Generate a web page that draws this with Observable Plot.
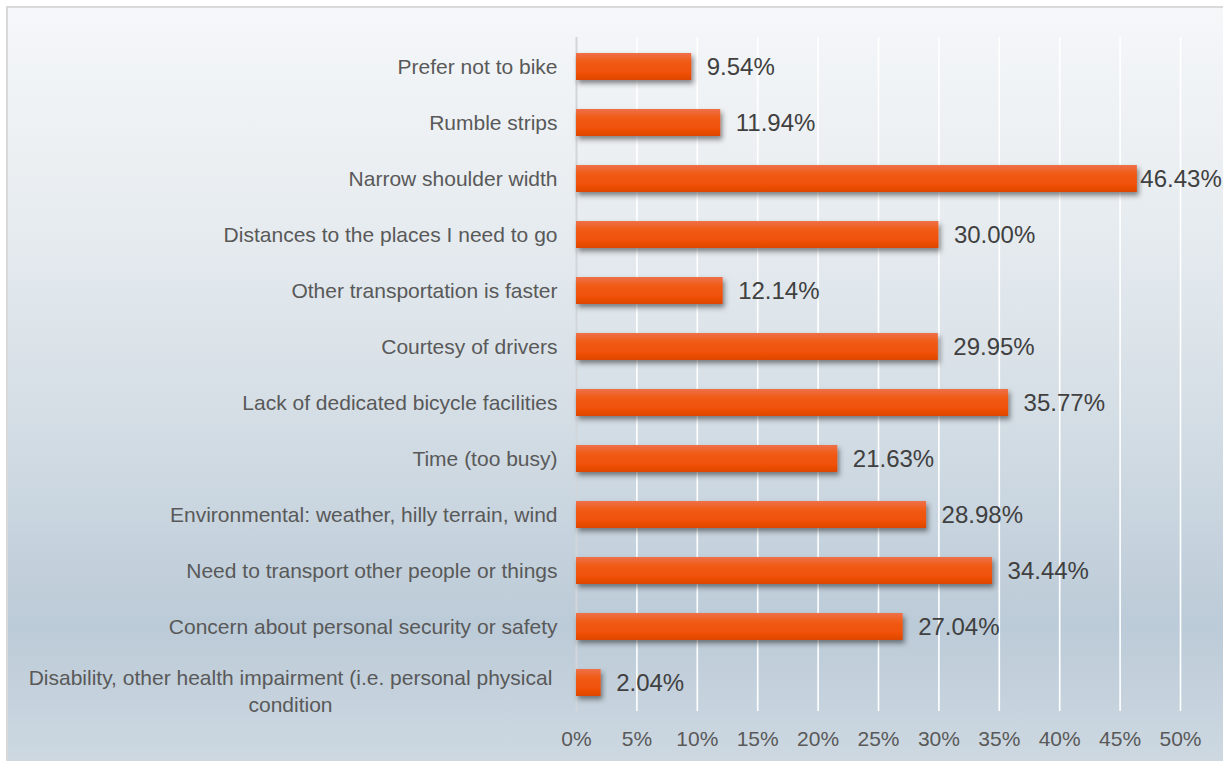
<!DOCTYPE html>
<html><head><meta charset="utf-8">
<script src="https://cdn.jsdelivr.net/npm/d3@7"></script>
<script src="https://cdn.jsdelivr.net/npm/@observablehq/plot@0.6"></script>
<style>
html,body{margin:0;padding:0;background:#fff;overflow:hidden;}
#frame{position:absolute;left:6px;top:6px;width:1217px;height:755px;box-sizing:border-box;border-left:2px solid #d9d9d9;border-top:2px solid #d9d9d9;background:linear-gradient(to bottom,#f5f7f9 0%,#e7ecf0 28%,#d6dfe6 52%,#bccbd8 82%,#cdd8e1 100%);}
#chart{position:absolute;left:0;top:0;}
#chart svg{background:transparent !important;}
</style></head><body>
<div id="frame"></div><div id="chart"></div>
<script>
const categories = [
  "Prefer not to bike",
  "Rumble strips",
  "Narrow shoulder width",
  "Distances to the places I need to go",
  "Other transportation is faster",
  "Courtesy of drivers",
  "Lack of dedicated bicycle facilities",
  "Time (too busy)",
  "Environmental: weather, hilly terrain, wind",
  "Need to transport other people or things",
  "Concern about personal security or safety",
  "Disability, other health impairment (i.e. personal physical condition"
];
const labels = [
  "Prefer not to bike",
  "Rumble strips",
  "Narrow shoulder width",
  "Distances to the places I need to go",
  "Other transportation is faster",
  "Courtesy of drivers",
  "Lack of dedicated bicycle facilities",
  "Time (too busy)",
  "Environmental: weather, hilly terrain, wind",
  "Need to transport other people or things",
  "Concern about personal security or safety",
  "Disability, other health impairment (i.e. personal physical\ncondition"
];
const values = [9.54, 11.94, 46.43, 30.00, 12.14, 29.95, 35.77, 21.63, 28.98, 34.44, 27.04, 2.04];
const xTicks = [0, 5, 10, 15, 20, 25, 30, 35, 40, 45, 50];

const data = categories.map((c, i) => ({category: c, label: labels[i], value: values[i]}));
const single = data.filter(d => !d.label.includes("\n"));
const multi = data.filter(d => d.label.includes("\n"));
const fits = data.filter(d => d.value <= 45);
const wide = data.filter(d => d.value > 45);

const chart = Plot.plot({
  width: 1223,
  height: 761,
  marginLeft: 576,
  marginRight: 43,
  marginTop: 37,
  marginBottom: 50,
  style: {fontFamily: "'Liberation Sans', Arial, sans-serif", fontSize: "21px", color: "#595959", background: "transparent", overflow: "hidden"},
  x: {domain: [0, 50], ticks: xTicks, tickFormat: d => d + "%", tickSize: 0, tickPadding: 20, label: null},
  y: {domain: categories, axis: null, paddingInner: 0.52, paddingOuter: 0.26},
  marks: [
    Plot.ruleX(xTicks.filter(t => t > 0), {stroke: "white", strokeWidth: 1.6}),
    Plot.ruleX([0], {stroke: "#d2d6da", strokeWidth: 2}),
    Plot.barX(data, {x: "value", y: "category", fill: "url(#barGrad)"}),
    Plot.text(single, {x: 0, y: "category", text: "label", textAnchor: "end", dx: -19, fill: "#595959", fontSize: 21}),
    Plot.text(multi, {x: 0, y: "category", text: "label", textAnchor: "middle", dx: -286, dy: 7, lineHeight: 1.29, fill: "#595959", fontSize: 21}),
    Plot.text(fits, {x: "value", y: "category", text: d => d.value.toFixed(2) + "%", textAnchor: "start", dx: 15, fill: "#404040", fontSize: 24}),
    Plot.text(wide, {x: "value", y: "category", text: d => d.value.toFixed(2) + "%", textAnchor: "start", dx: 3, fill: "#404040", fontSize: 24})
  ]
});

const NS = "http://www.w3.org/2000/svg";
const defs = document.createElementNS(NS, "defs");
defs.innerHTML = `
<linearGradient id="barGrad" x1="0" y1="0" x2="0" y2="1">
  <stop offset="0" stop-color="#ee7048"/>
  <stop offset="0.35" stop-color="#f15a14"/>
  <stop offset="0.75" stop-color="#ef5006"/>
  <stop offset="1" stop-color="#dc4600"/>
</linearGradient>
<filter id="shadow" x="-10%" y="-30%" width="130%" height="190%">
  <feDropShadow dx="2" dy="3.5" stdDeviation="2.5" flood-color="#2a2a2a" flood-opacity="0.55"/>
</filter>`;
chart.insertBefore(defs, chart.firstChild);
chart.querySelectorAll('g[aria-label="bar"]').forEach(g => g.setAttribute("filter", "url(#shadow)"));
document.getElementById("chart").appendChild(chart);
</script>
</body></html>
